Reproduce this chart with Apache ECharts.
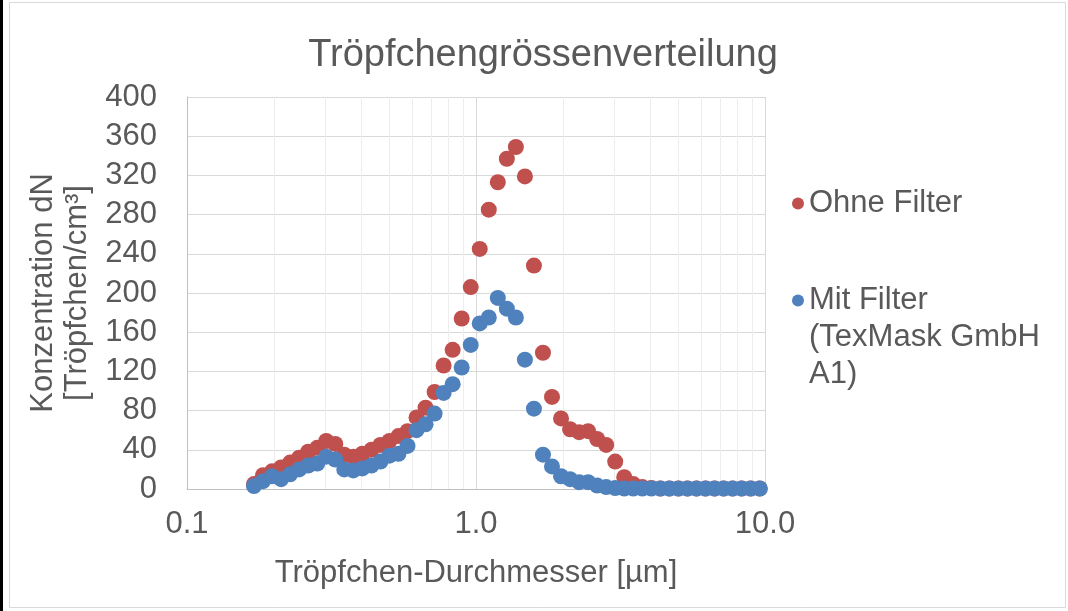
<!DOCTYPE html>
<html><head><meta charset="utf-8">
<script src="https://cdn.jsdelivr.net/npm/echarts@6/dist/echarts.min.js"></script>
<style>html,body{margin:0;padding:0;background:#fff}#c{width:1068px;height:611px}</style>
</head><body><div id="c"></div>
<script>
// Droplet diameters [µm] (log-spaced channels)
const diameters = [0.1705,0.1832,0.1969,0.2116,0.2274,0.2443,0.2626,0.2822,0.3032,0.3258,
  0.3501,0.3763,0.4043,0.4345,0.4669,0.5017,0.5392,0.5794,0.6226,0.6691,
  0.7190,0.7726,0.8303,0.8922,0.9588,1.0303,1.1072,1.1898,1.2786,1.3740,
  1.4765,1.5866,1.7050,1.8322,1.9689,2.1158,2.2736,2.4433,2.6256,2.8214,
  3.0319,3.2581,3.5012,3.7624,4.0431,4.3448,4.6689,5.0173,5.3916,5.7938,
  6.2261,6.6906,7.1898,7.7262,8.3026,8.9220,9.5877];
const ohneFilter = [5,14,18,22,27,32,38,42,49,46,
  35,33,36,40,45,49,54,59,73,83,
  99,126,142,174,206,245,285,313,337,349,
  319,228,139,94,72,61,58,59,51,45,
  28,12,5,2,1,0.5,0.5,0.5,0.5,0.5,
  0.5,0.5,0.5,0.5,0.5,0.5,0.5];
const mitFilter = [3,8,13,10,15,20,24,26,33,30,
  20,19,21,24,28,34,36,44,60,66,
  77,98,107,124,147,169,175,195,184,175,
  132,82,35,23,13,10,7,7,3.5,2,
  1,0.5,0.5,0.5,0.5,0.5,0.5,0.5,0.5,0.5,
  0.5,0.5,0.5,0.5,0.5,0.5,0.5];
const seriesNames = ['Ohne Filter', 'Mit Filter (TexMask GmbH A1)'];
const minorGridValues = [0.2,0.3,0.4,0.5,0.6,0.7,0.8,0.9,2,3,4,5,6,7,8,9];

const FONT = '"Liberation Sans", Arial, sans-serif';
const TXT = '#595959';
const FS = 31;
const chart = echarts.init(document.getElementById('c'), null, {renderer: 'canvas'});
chart.setOption({
  animation: false,
  backgroundColor: '#ffffff',
  textStyle: {fontFamily: FONT},
  graphic: [
    {type: 'rect', shape: {x: 9.5, y: 2.5, width: 1056, height: 605}, style: {fill: null, stroke: '#D9D9D9', lineWidth: 1}, z: -10, silent: true},
    {type: 'rect', shape: {x: 0, y: 0, width: 3, height: 611}, style: {fill: '#000'}, z: -10, silent: true}
  ],
  title: {
    text: 'Tröpfchengrössenverteilung',
    left: 538, top: 32, textAlign: 'center',
    textStyle: {fontFamily: FONT, fontSize: 38, fontWeight: 'normal', color: TXT}
  },
  legend: [
    {
      data: [seriesNames[0]], orient: 'vertical', left: 787, top: 180,
      icon: 'circle', itemWidth: 12, itemHeight: 12,
      textStyle: {fontFamily: FONT, fontSize: FS, color: TXT, lineHeight: 37}
    },
    {
      data: [seriesNames[1]], orient: 'vertical', left: 787, top: 203,
      icon: 'circle', itemWidth: 12, itemHeight: 12,
      formatter: () => '\n\nMit Filter\n(TexMask GmbH\nA1)',
      textStyle: {fontFamily: FONT, fontSize: FS, color: TXT, lineHeight: 37}
    }
  ],
  grid: {left: 187, right: 303, top: 97, bottom: 122, containLabel: false, outerBoundsMode: 'none'},
  xAxis: {
    type: 'log', logBase: 10, min: 0.1, max: 10,
    name: 'Tröpfchen-Durchmesser [µm]', nameLocation: 'middle', nameGap: 69,
    nameTextStyle: {fontFamily: FONT, fontSize: FS, color: TXT},
    axisLine: {show: true, lineStyle: {color: '#BFBFBF', width: 1}},
    axisTick: {show: false},
    axisLabel: {fontFamily: FONT, fontSize: FS, color: TXT, margin: 20, formatter: v => Number(v).toFixed(1)},
    splitLine: {show: true, lineStyle: {color: '#D9D9D9', width: 1}},
    minorTick: {show: false}, minorSplitLine: {show: false}
  },
  yAxis: {
    type: 'value', min: 0, max: 400, interval: 40,
    name: 'Konzentration dN\n[Tröpfchen/cm³]', nameLocation: 'middle', nameGap: 88, nameRotate: 90,
    nameTextStyle: {fontFamily: FONT, fontSize: FS, color: TXT, lineHeight: 34},
    axisLine: {show: true, lineStyle: {color: '#BFBFBF', width: 1}},
    axisTick: {show: false},
    axisLabel: {fontFamily: FONT, fontSize: FS, color: TXT, margin: 30},
    splitLine: {show: true, lineStyle: {color: '#D9D9D9', width: 1}}
  },
  series: [
    {
      name: seriesNames[0], type: 'scatter', symbol: 'circle', symbolSize: 16,
      itemStyle: {color: '#C0504D', opacity: 1},
      data: diameters.map((d, i) => [d, ohneFilter[i]]),
      markLine: {
        silent: true, symbol: ['none', 'none'], z: 1, animation: false,
        label: {show: false},
        lineStyle: {color: '#EDEDED', type: 'solid', width: 1},
        emphasis: {disabled: true},
        data: minorGridValues.map(v => ({xAxis: v}))
      }
    },
    {
      name: seriesNames[1], type: 'scatter', symbol: 'circle', symbolSize: 16,
      itemStyle: {color: '#4F81BD', opacity: 1},
      data: diameters.map((d, i) => [d, mitFilter[i]])
    }
  ]
});
</script></body></html>
